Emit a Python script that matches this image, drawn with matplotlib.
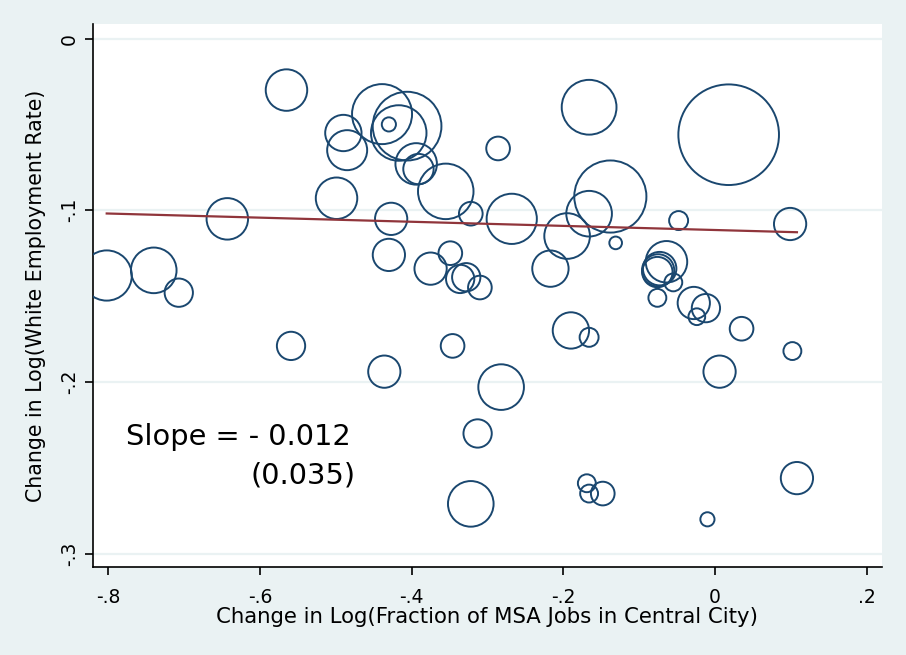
import matplotlib
matplotlib.use('Agg')
import matplotlib.pyplot as plt
import numpy as np

# ── Data ──────────────────────────────────────────────────────────────────────
# change in log(fraction of MSA jobs in central city)
job_share = [
    -0.565, -0.643, -0.499, -0.490, -0.485, -0.802, -0.740, -0.707,
    -0.439, -0.406, -0.417, -0.430, -0.394, -0.391, -0.355, -0.286,
    -0.166, -0.322, -0.268, -0.427, -0.430, -0.375, -0.349, -0.336,
    -0.328, -0.310, -0.195, -0.166, -0.138, -0.217, -0.131, 0.018,
    -0.048, 0.099, -0.064, -0.073, -0.075, -0.076, -0.055, -0.076,
    -0.028, -0.012, -0.024, 0.035, 0.102, 0.006, -0.190, -0.166,
    -0.346, -0.559, -0.436, -0.282, -0.313, -0.322, -0.169, -0.166,
    -0.148, 0.108, -0.010,
]
# change in log(white employment rate)
white_emp = [
    -0.030, -0.105, -0.093, -0.055, -0.065, -0.138, -0.135, -0.148,
    -0.044, -0.051, -0.055, -0.050, -0.073, -0.076, -0.089, -0.064,
    -0.040, -0.102, -0.105, -0.105, -0.126, -0.134, -0.125, -0.140,
    -0.139, -0.145, -0.115, -0.102, -0.092, -0.134, -0.119, -0.056,
    -0.106, -0.108, -0.130, -0.134, -0.135, -0.136, -0.142, -0.151,
    -0.154, -0.157, -0.162, -0.169, -0.182, -0.194, -0.170, -0.174,
    -0.179, -0.179, -0.194, -0.203, -0.230, -0.271, -0.259, -0.265,
    -0.265, -0.256, -0.280,
]
# MSA weights (bubble area)
weights = [
    4.3, 4.3, 4.3, 3.3, 4.0, 6.3, 5.2, 2.0,
    9.0, 11.8, 7.7, 0.5, 4.3, 2.3, 7.7, 1.4,
    7.5, 1.4, 6.3, 2.6, 2.6, 2.6, 1.4, 2.0,
    2.0, 1.4, 5.2, 5.2, 13.0, 3.3, 0.4, 25.3,
    0.9, 2.6, 4.3, 2.8, 2.6, 2.3, 0.8, 0.8,
    2.6, 2.0, 0.7, 1.4, 0.8, 2.6, 3.3, 0.9,
    1.4, 2.0, 2.6, 5.2, 2.0, 5.2, 0.8, 0.8,
    1.4, 2.6, 0.5,
]

slope = -0.012
intercept = -0.1115
slope_txt = 'Slope = - 0.012'
se_txt = '(0.035)'

x_ticks = [-0.8, -0.6, -0.4, -0.2, 0.0, 0.2]
x_ticklabels = ['-.8', '-.6', '-.4', '-.2', '0', '.2']
y_ticks = [0.0, -0.1, -0.2, -0.3]
y_ticklabels = ['0', '-.1', '-.2', '-.3']

# ── Style ─────────────────────────────────────────────────────────────────────
bg = '#EAF2F3'
navy = '#1A476F'
maroon = '#90353B'

fig = plt.figure(figsize=(9.06, 6.55), dpi=100, facecolor=bg)
ax = fig.add_axes([0.1023, 0.1348, 0.8715, 0.8286])
ax.set_facecolor('white')

# bubbles: area proportional to weight
w = np.array(weights)
ax.scatter(job_share, white_emp, s=w * 207.4, facecolors='none',
           edgecolors=navy, linewidths=1.4, zorder=3)

# fitted line over data range
xs = np.array([min(job_share), max(job_share)])
ax.plot(xs, intercept + slope * xs, color=maroon, linewidth=1.6, zorder=4)

ax.text(-0.777, -0.232, slope_txt, fontsize=20.8, va='center', ha='left',
        color='black', zorder=5)
ax.text(-0.6126, -0.2545, se_txt, fontsize=20.8, va='center', ha='left',
        color='black', zorder=5)

# ── Axes ──────────────────────────────────────────────────────────────────────
ax.set_xlim(-0.8205, 0.2205)
ax.set_ylim(-0.3076, 0.0085)
ax.set_xticks(x_ticks)
ax.set_xticklabels(x_ticklabels, fontsize=13.5)
ax.set_yticks(y_ticks)
ax.set_yticklabels(y_ticklabels, fontsize=13.5, rotation=90, va='center')
ax.grid(axis='y', color=bg, linewidth=1.6, zorder=0)
ax.set_axisbelow(True)

for side in ['top', 'right']:
    ax.spines[side].set_visible(False)
for side in ['left', 'bottom']:
    ax.spines[side].set_linewidth(1.2)
ax.tick_params(direction='out', length=6, width=1.2)
ax.tick_params(axis='x', pad=9)
ax.tick_params(axis='y', pad=4)

ax.set_xlabel('Change in Log(Fraction of MSA Jobs in Central City)',
              fontsize=15.3, labelpad=0)
ax.set_ylabel('Change in Log(White Employment Rate)', fontsize=14.8,
              labelpad=10)

fig.savefig('out.png', dpi=100, facecolor=bg)
